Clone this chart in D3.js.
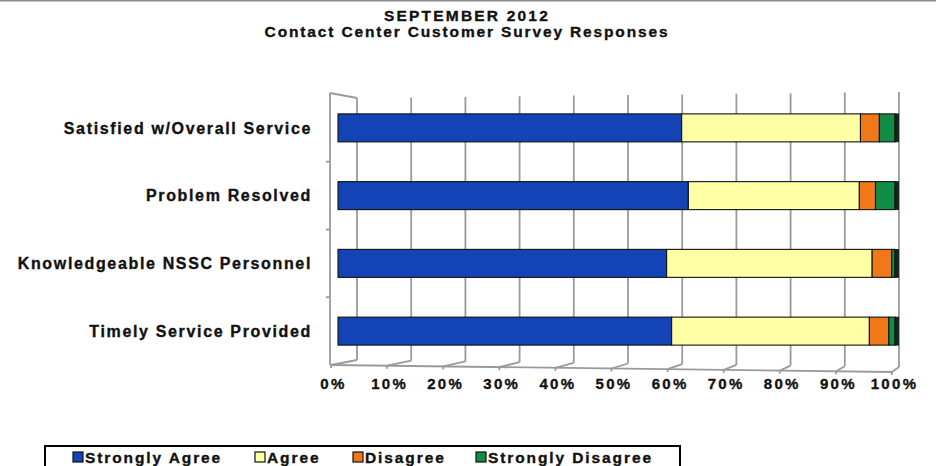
<!DOCTYPE html>
<html><head><meta charset="utf-8">
<script src="https://cdn.jsdelivr.net/npm/d3@7"></script>
<style>
body{margin:0;background:#fff;}
svg{display:block;font-family:"Liberation Sans",Arial,sans-serif;font-weight:bold;}
svg text{stroke:#111;stroke-width:0.35px;}
</style></head><body>
<svg id="chart" width="936" height="466"></svg>
<script>
// Survey categories (top to bottom) and the percentage share of each response
const categories = ["Satisfied w/Overall Service", "Problem Resolved", "Knowledgeable NSSC Personnel", "Timely Service Provided"];
const seriesNames = ["Strongly Agree", "Agree", "Disagree", "Strongly Disagree"];
const stronglyAgree    = [61.7, 62.9, 59.0, 59.9];
const agree            = [32.1, 30.7, 36.9, 35.5];
const disagree         = [3.4, 2.9, 3.5, 3.5];
const stronglyDisagree = [2.8, 3.5, 0.6, 1.1];
const tickValues = [0, 10, 20, 30, 40, 50, 60, 70, 80, 90, 100];
const tickLabels = ["0%", "10%", "20%", "30%", "40%", "50%", "60%", "70%", "80%", "90%", "100%"];
const titleLines = ["SEPTEMBER 2012", "Contact Center Customer Survey Responses"];
const seriesColors = ["#1343b5", "#ffffa6", "#f07818", "#0f8c45"];

const svg = d3.select("#chart");
const W = 936, H = 466;

// rows for the stack layout
const rows = categories.map((c, i) => ({
  cat: c,
  "Strongly Agree": stronglyAgree[i],
  "Agree": agree[i],
  "Disagree": disagree[i],
  "Strongly Disagree": stronglyDisagree[i]
}));
const stacked = d3.stack().keys(seriesNames)(rows);
const color = d3.scaleOrdinal(seriesNames, seriesColors);

// 3-D box geometry: back wall, front edge, and the bar plane in between
const xBack  = d3.scaleLinear([0, 100], [357, 899]);
const xFront = d3.scaleLinear([0, 100], [331, 892]);
const xBar   = d3.scaleLinear([0, 100], [338, 895]);
const backTop    = d3.scaleLinear([0, 100], [98, 92]);
const backBottom = d3.scaleLinear([0, 100], [360, 367]);
const frontBottom = d3.scaleLinear([0, 100], [365, 372]);
const y = d3.scaleBand(categories, [94, 365]).paddingInner(0.587).paddingOuter(0.2935);

// frame line at the top of the picture
svg.append("line").attr("x1", 0).attr("x2", W).attr("y1", 0.5).attr("y2", 0.5)
  .attr("stroke", "#8a8a8a").attr("stroke-width", 2);

// titles
svg.selectAll("text.title").data(titleLines).join("text")
  .attr("class", "title")
  .attr("x", 467).attr("y", (d, i) => 21 + i * 16)
  .attr("text-anchor", "middle")
  .attr("font-size", 15.5).attr("letter-spacing", (d, i) => i ? 1.85 : 2.2)
  .attr("fill", "#111")
  .text(d => d);

const grid = svg.append("g").attr("stroke", "#9a9a9a").attr("stroke-width", 1.8).attr("fill", "none");

// vertical gridlines on the back wall
grid.selectAll("line.v").data(tickValues).join("line")
  .attr("class", "v")
  .attr("x1", d => xBack(d)).attr("x2", d => xBack(d))
  .attr("y1", d => backTop(d)).attr("y2", d => backBottom(d));

// floor: slanted connectors from front ticks to the back gridlines
grid.selectAll("line.f").data(tickValues).join("line")
  .attr("class", "f")
  .attr("x1", d => xFront(d)).attr("y1", d => frontBottom(d))
  .attr("x2", d => xBack(d)).attr("y2", d => backBottom(d));

// front edge of the floor with tick marks
grid.append("line")
  .attr("x1", xFront(0)).attr("y1", frontBottom(0))
  .attr("x2", xFront(100)).attr("y2", frontBottom(100));
grid.selectAll("line.t").data(tickValues).join("line")
  .attr("class", "t")
  .attr("x1", d => xFront(d)).attr("x2", d => xFront(d))
  .attr("y1", d => frontBottom(d)).attr("y2", d => frontBottom(d) + 3);

// left wall: front edge, top edge
grid.append("line").attr("x1", 330).attr("x2", 330).attr("y1", 93).attr("y2", frontBottom(0));
grid.append("line").attr("x1", 330).attr("y1", 93).attr("x2", xBack(0)).attr("y2", backTop(0));

// category separators on the left wall
const seps = categories.slice(1).map(c => y(c) - y.paddingInner() * y.step() / 2);
grid.selectAll("line.s").data(seps).join("line")
  .attr("class", "s")
  .attr("x1", 326).attr("x2", 330).attr("y1", d => d).attr("y2", d => d);

// bars
const barG = svg.append("g");
barG.selectAll("g.series").data(stacked).join("g")
  .attr("class", "series")
  .attr("fill", d => color(d.key))
  .selectAll("rect").data(d => d).join("rect")
  .attr("x", d => xBar(d[0]))
  .attr("y", d => y(d.data.cat))
  .attr("width", d => Math.max(0, xBar(d[1]) - xBar(d[0])))
  .attr("height", y.bandwidth())
  .attr("stroke", "#111").attr("stroke-width", 1.1);

// shaded end face of each bar
barG.selectAll("rect.end").data(rows).join("rect")
  .attr("class", "end")
  .attr("x", xBar(100)).attr("y", d => y(d.cat))
  .attr("width", 3.5).attr("height", y.bandwidth())
  .attr("fill", "#0b2a14").attr("stroke", "#111").attr("stroke-width", 0.8);

// category labels
svg.append("g")
  .attr("transform", "translate(312,0)")
  .call(d3.axisLeft(y).tickSize(0).tickPadding(0))
  .call(g => g.select(".domain").remove())
  .selectAll("text")
  .attr("font-size", 16).attr("font-weight", "bold").attr("letter-spacing", 1.65)
  .attr("font-family", "'Liberation Sans', Arial, sans-serif")
  .attr("fill", "#111").attr("dy", "0.36em");

// percentage labels under the floor
svg.append("g")
  .attr("transform", "translate(2,368)")
  .call(d3.axisBottom(xFront).tickValues(tickValues).tickFormat((d, i) => tickLabels[i]).tickSize(0).tickPadding(10))
  .call(g => g.select(".domain").remove())
  .selectAll("text")
  .attr("font-size", 15).attr("font-weight", "bold").attr("letter-spacing", 2.3)
  .attr("font-family", "'Liberation Sans', Arial, sans-serif")
  .attr("fill", "#111");

// legend
const legend = svg.append("g");
legend.append("rect").attr("x", 45).attr("y", 446).attr("width", 635).attr("height", 30)
  .attr("fill", "#fff").attr("stroke", "#000").attr("stroke-width", 2);
const legendX = [73, 255, 353, 476];
const items = legend.selectAll("g.item").data(seriesNames).join("g")
  .attr("class", "item")
  .attr("transform", (d, i) => `translate(${legendX[i]},452)`);
items.append("rect").attr("x", 0).attr("y", 0).attr("width", 10).attr("height", 10)
  .attr("fill", d => color(d)).attr("stroke", "#111").attr("stroke-width", 1.2);
items.append("text").attr("x", 12).attr("y", 10.5)
  .attr("font-size", 15.5).attr("letter-spacing", 1.9).attr("fill", "#111")
  .text(d => d);
</script>
</body></html>
